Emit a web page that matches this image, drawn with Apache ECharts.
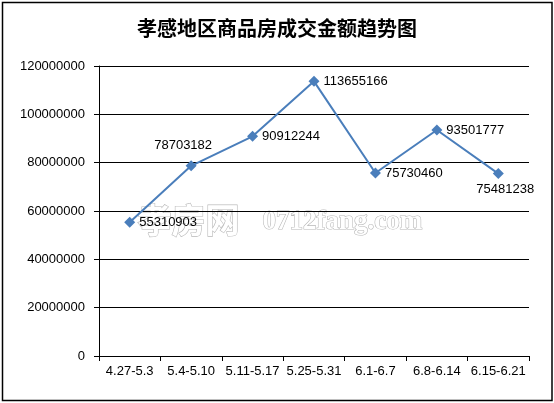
<!DOCTYPE html>
<html>
<head>
<meta charset="utf-8">
<script src="https://cdn.jsdelivr.net/npm/echarts@6/dist/echarts.min.js"></script>
<style>
  html, body { margin: 0; padding: 0; background: #fff; }
  #chart { width: 554px; height: 403px; }
</style>
</head>
<body>
<div id="chart"></div>
<script>
// 周期
const weeks = ['4.27-5.3', '5.4-5.10', '5.11-5.17', '5.25-5.31', '6.1-6.7', '6.8-6.14', '6.15-6.21']
// 成交金额
const amounts = [55310903, 78703182, 90912244, 113655166, 75730460, 93501777, 75481238]
// 标签位置
const labelPos = ['right', 'top', 'right', 'right', 'right', 'right', 'bottom']
const labelOffset = [[0, 0], [-8, -4], [0, 0], [0, 0], [0, 0], [0, 0], [7, 0]]

const chart = echarts.init(document.getElementById('chart'))
const numFont = 'Liberation Sans, DejaVu Sans, sans-serif'

chart.setOption({
  animation: false,
  backgroundColor: '#fff',
  title: {
    text: '孝感地区商品房成交金额趋势图',
    left: 'center',
    top: 13,
    textStyle: {
      fontFamily: 'Noto Sans CJK SC',
      fontSize: 20,
      fontWeight: 'bold',
      color: '#000'
    }
  },
  graphic: [
    {
      type: 'rect',
      z: -10,
      shape: { x: 2.5, y: 2.5, width: 549.5, height: 398 },
      style: { fill: 'none', stroke: '#000', lineWidth: 1.5 }
    },
    {
      type: 'text',
      z: -5,
      left: 137,
      top: 202,
      style: {
        text: '孝房网',
        font: 'bold 34px "Noto Sans CJK SC"',
        fill: '#fff',
        stroke: '#b8b8b8',
        lineWidth: 1.2
      }
    },
    {
      type: 'text',
      z: -5,
      left: 262,
      top: 208,
      style: {
        text: '0712fang.com',
        font: 'bold 27px "Liberation Serif"',
        fill: '#fff',
        stroke: '#b8b8b8',
        lineWidth: 1.2
      }
    }
  ],
  grid: {
    left: 99,
    right: 25,
    top: 66,
    height: 290
  },
  xAxis: {
    type: 'category',
    data: weeks,
    boundaryGap: true,
    axisLine: { lineStyle: { color: '#000', width: 1 } },
    axisTick: { show: true, length: 5, lineStyle: { color: '#000' } },
    axisLabel: {
      interval: 0,
      margin: 9,
      color: '#000',
      fontSize: 13,
      fontFamily: numFont
    }
  },
  yAxis: {
    type: 'value',
    min: 0,
    max: 120000000,
    interval: 20000000,
    axisLine: { show: true, lineStyle: { color: '#000', width: 1 } },
    axisTick: { show: true, length: 5, lineStyle: { color: '#000' } },
    axisLabel: {
      margin: 14,
      color: '#000',
      fontSize: 13,
      fontFamily: numFont,
      formatter: (v) => String(v)
    },
    splitLine: { lineStyle: { color: '#000', width: 1 } }
  },
  series: [
    {
      type: 'line',
      data: amounts.map((v, i) => ({
        value: v,
        label: { position: labelPos[i], offset: labelOffset[i] }
      })),
      symbol: 'diamond',
      symbolSize: 11,
      itemStyle: { color: '#4A7EBB' },
      lineStyle: { color: '#4A7EBB', width: 2 },
      label: {
        show: true,
        distance: 4,
        color: '#000',
        fontSize: 13,
        fontFamily: numFont
      }
    }
  ]
})
</script>
</body>
</html>
